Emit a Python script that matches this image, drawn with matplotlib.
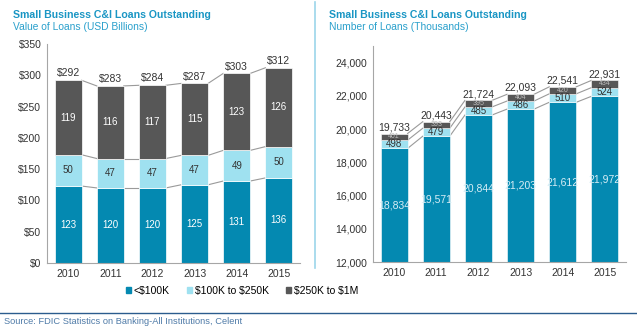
import matplotlib.pyplot as plt
import numpy as np
from matplotlib.lines import Line2D
from matplotlib.patches import Rectangle

plt.rcParams['font.family'] = ['Liberation Sans', 'DejaVu Sans']
plt.rcParams['text.parse_math'] = False

years = ['2010', '2011', '2012', '2013', '2014', '2015']

# value of loans, USD billions
val_small = [123, 120, 120, 125, 131, 136]
val_mid = [50, 47, 47, 47, 49, 50]
val_large = [119, 116, 117, 115, 123, 126]
val_total = [292, 283, 284, 287, 303, 312]

# number of loans, thousands
num_small = [18834, 19571, 20844, 21203, 21612, 21972]
num_mid = [498, 479, 485, 486, 510, 524]
num_large = [401, 393, 395, 404, 420, 434]
num_total = [19733, 20443, 21724, 22093, 22541, 22931]

legend_labels = ['<$100K', '$100K to $250K', '$250K to $1M']

C_SMALL = '#0489B1'
C_MID = '#9FE1F0'
C_LARGE = '#575757'
C_TITLE = '#1A96C4'
C_TEXT = '#333333'
C_CONN = '#9A9A9A'

fig = plt.figure(figsize=(6.37, 3.34), dpi=100)
W, H = 637, 334


def ax_rect(x0, x1, ytop, ybot):
    return [x0 / W, 1 - ybot / H, (x1 - x0) / W, (ybot - ytop) / H]


def connectors(ax, x, w, tops):
    for t in tops:
        for i in range(len(x) - 1):
            ax.plot([x[i] + w / 2, x[i + 1] - w / 2], [t[i], t[i + 1]], color=C_CONN, lw=0.8, zorder=1)


# ---------- left chart ----------
axL = fig.add_axes(ax_rect(47, 300, 44, 263))
xL = np.arange(len(years))
wL = 0.64
s = np.array(val_small, float)
m = np.array(val_mid, float)
l = np.array(val_large, float)
axL.bar(xL, s, wL, color=C_SMALL, edgecolor='white', linewidth=0.5, zorder=2)
axL.bar(xL, m, wL, bottom=s, color=C_MID, edgecolor='white', linewidth=0.5, zorder=2)
axL.bar(xL, l, wL, bottom=s + m, color=C_LARGE, edgecolor='white', linewidth=0.5, zorder=2)
connectors(axL, xL, wL, [s, s + m, s + m + l])
for i in range(len(xL)):
    axL.text(xL[i], s[i] / 2, str(val_small[i]), ha='center', va='center', color='white', fontsize=7)
    axL.text(xL[i], s[i] + m[i] / 2, str(val_mid[i]), ha='center', va='center', color=C_TEXT, fontsize=7)
    axL.text(xL[i], s[i] + m[i] + l[i] / 2, str(val_large[i]), ha='center', va='center', color='white', fontsize=7)
    axL.text(xL[i], s[i] + m[i] + l[i] + 3, '$%d' % val_total[i], ha='center', va='bottom', color=C_TEXT, fontsize=7.5)
axL.set_xlim(-0.5, 5.5)
axL.set_ylim(0, 350)
axL.set_yticks(np.arange(0, 351, 50))
axL.set_yticklabels(['$%d' % v for v in range(0, 351, 50)])
axL.set_xticks(xL)
axL.set_xticklabels(years)

# ---------- right chart ----------
axR = fig.add_axes(ax_rect(373, 626, 46, 262))
xR = np.arange(len(years))
wR = 0.64
base = 12000
s = np.array(num_small, float)
m = np.array(num_mid, float)
l = np.array(num_large, float)
axR.bar(xR, s - base, wR, bottom=base, color=C_SMALL, edgecolor='white', linewidth=0.4, zorder=2)
axR.bar(xR, m, wR, bottom=s, color=C_MID, edgecolor='white', linewidth=0.4, zorder=2)
axR.bar(xR, l, wR, bottom=s + m, color=C_LARGE, edgecolor='white', linewidth=0.4, zorder=2)
connectors(axR, xR, wR, [s, s + m, s + m + l])
for i in range(len(xR)):
    axR.text(xR[i], (base + s[i]) / 2, '{:,}'.format(num_small[i]), ha='center', va='center', color='#D8EEF6', fontsize=7.5)
    axR.text(xR[i], s[i] + m[i] / 2, str(num_mid[i]), ha='center', va='center', color=C_TEXT, fontsize=7)
    axR.text(xR[i], s[i] + m[i] + l[i] / 2, str(num_large[i]), ha='center', va='center', color='#BBBBBB', fontsize=5)
    axR.text(xR[i], s[i] + m[i] + l[i] + 80, '{:,}'.format(num_total[i]), ha='center', va='bottom', color=C_TEXT, fontsize=7.5)
axR.set_xlim(-0.5, 5.5)
axR.set_ylim(12000, 25000)
axR.set_yticks(np.arange(12000, 24001, 2000))
axR.set_yticklabels(['{:,}'.format(v) for v in range(12000, 24001, 2000)])
axR.set_xticks(xR)
axR.set_xticklabels(years)

for ax in (axL, axR):
    for sp in ('top', 'right'):
        ax.spines[sp].set_visible(False)
    for sp in ('left', 'bottom'):
        ax.spines[sp].set_color('#A6A6A6')
        ax.spines[sp].set_linewidth(0.8)
    ax.tick_params(length=0, labelsize=7.5, colors=C_TEXT, pad=4)

# titles
for x0, sub in ((13, 'Value of Loans (USD Billions)'), (329, 'Number of Loans (Thousands)')):
    fig.text(x0 / W, 1 - 15 / H, 'Small Business C&I Loans Outstanding', fontsize=7.6, fontweight='bold',
             color=C_TITLE, va='center')
    fig.text(x0 / W, 1 - 27 / H, sub, fontsize=7.4, color='#2AA0CC', va='center')

# divider and footer
fig.add_artist(Line2D([315 / W, 315 / W], [1 - 2 / H, 1 - 268 / H], color='#9CD6EA', lw=1.2))
fig.add_artist(Line2D([0, 1], [1 - 313 / H, 1 - 313 / H], color='#2B5C8E', lw=1.0))
fig.text(4 / W, 1 - 322 / H, 'Source: FDIC Statistics on Banking-All Institutions, Celent', fontsize=6.7,
         color='#4F7BA8', va='center')

# legend
handles = [Rectangle((0, 0), 1, 1, color=c) for c in (C_SMALL, C_MID, C_LARGE)]
fig.legend(handles, legend_labels, loc='center',
           bbox_to_anchor=(242 / W, 1 - 291 / H), ncol=3, frameon=False, fontsize=7.5,
           handlelength=0.5, handleheight=0.5, handletextpad=0.3, columnspacing=1.6)

fig.savefig('out.png', dpi=100)
